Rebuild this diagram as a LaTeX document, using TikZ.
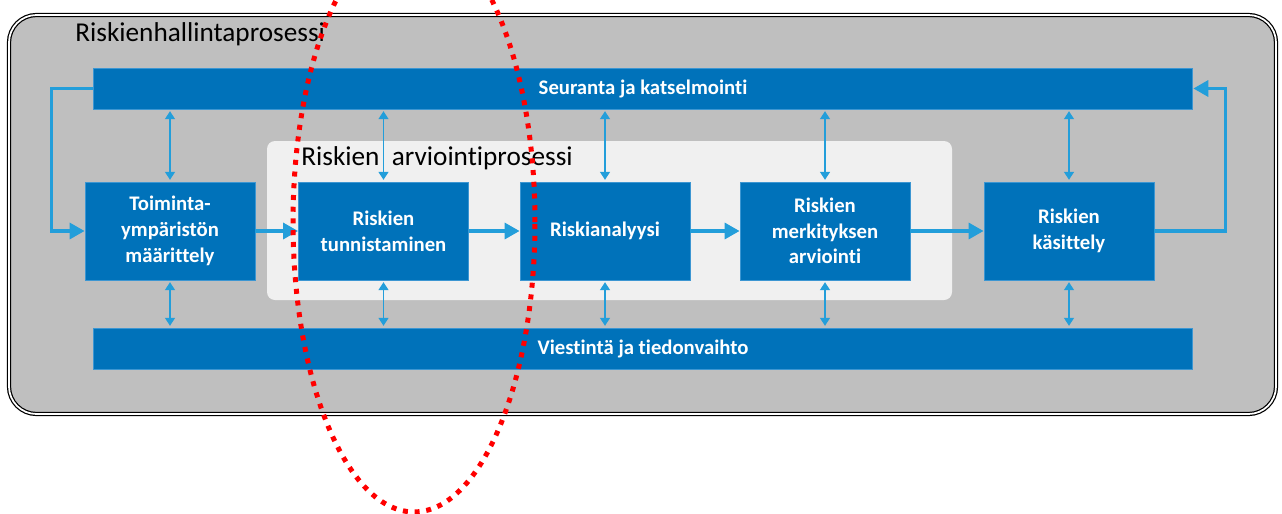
\documentclass[tikz,border=0pt]{standalone}
\usepackage{fontspec}
\setmainfont{Carlito}[Ligatures=NoCommon]
\usetikzlibrary{arrows.meta}
\definecolor{tummasininen}{RGB}{0,114,186}
\definecolor{reunasininen}{RGB}{60,150,210}
\definecolor{nuolisininen}{RGB}{35,158,218}
\definecolor{taustaharmaa}{RGB}{191,191,191}
\definecolor{paneeliharmaa}{RGB}{240,240,240}
\tikzset{
    laatikko/.style={rectangle, fill=tummasininen, draw=reunasininen, line width=0.5pt,
        text=white, font=\bfseries\fontsize{11.8}{14.6}\selectfont, align=center,
        minimum width=3.4cm, minimum height=1.96cm, inner sep=0pt},
    palkki/.style={laatikko, minimum width=22cm, minimum height=0.82cm},
    isonuoli/.style={draw=nuolisininen, line width=1.9pt, -{Triangle[length=0.3cm, width=0.32cm]}},
    pieninuoli/.style={draw=nuolisininen, line width=0.8pt,
        {Triangle[length=0.16cm, width=0.2cm]}-{Triangle[length=0.16cm, width=0.2cm]},
        shorten >=1pt, shorten <=1pt},
    otsikko/.style={font=\fontsize{15.5}{18}\selectfont, anchor=base west, inner sep=0pt}
}
\begin{document}
\begin{tikzpicture}[x=0.02cm, y=-0.02cm]
        \useasboundingbox (0,0) rectangle (1282,514);
        % Ulkokehys
        \draw[double=white, double distance=1pt, line width=0.7pt, fill=taustaharmaa,
            rounded corners=0.55cm] (9,15) rectangle (1276,414);
        \node[otsikko] (paaotsikko) at (75,41) {Riskienhallintaprosessi};
        % Arviointiprosessin paneeli
        \fill[paneeliharmaa, rounded corners=0.16cm] (267,141) rectangle (952,300);
        \node[otsikko] (alaotsikko) at (301,165) {Riskien\ \ arviointiprosessi};
        % Palkit
        \node[palkki] (seuranta) at (643,88.5) {Seuranta ja katselmointi};
        \node[palkki] (viestinta) at (643,348.5) {Viestintä ja tiedonvaihto};
        % Vaiheet
        \node[laatikko] (toiminta) at (170,231) {Toiminta-\\ympäristön\\määrittely};
        \node[laatikko] (tunnistus) at (383.5,231) {Riskien\\tunnistaminen};
        \node[laatikko] (analyysi) at (605,231) {Riskianalyysi};
        \node[laatikko] (merkitys) at (825,231) {Riskien\\merkityksen\\arviointi};
        \node[laatikko] (kasittely) at (1069,231) {Riskien\\käsittely};
        % Kulku
        \draw[isonuoli] (toiminta) -- (tunnistus);
        \draw[isonuoli] (tunnistus) -- (analyysi);
        \draw[isonuoli] (analyysi) -- (merkitys);
        \draw[isonuoli] (merkitys) -- (kasittely);
        \draw[isonuoli] (seuranta.west) -- ++(-0.82cm,0) |- (toiminta.west);
        \draw[isonuoli] (kasittely.east) -- ++(1.42cm,0) |- (seuranta.east);
        % Yhteydet palkkeihin
        \draw[pieninuoli] (seuranta.south -| toiminta) -- (toiminta.north);
        \draw[pieninuoli] (seuranta.south -| tunnistus) -- (tunnistus.north);
        \draw[pieninuoli] (seuranta.south -| analyysi) -- (analyysi.north);
        \draw[pieninuoli] (seuranta.south -| merkitys) -- (merkitys.north);
        \draw[pieninuoli] (seuranta.south -| kasittely) -- (kasittely.north);
        \draw[pieninuoli] (toiminta.south) -- (viestinta.north -| toiminta);
        \draw[pieninuoli] (tunnistus.south) -- (viestinta.north -| tunnistus);
        \draw[pieninuoli] (analyysi.south) -- (viestinta.north -| analyysi);
        \draw[pieninuoli] (merkitys.south) -- (viestinta.north -| merkitys);
        \draw[pieninuoli] (kasittely.south) -- (viestinta.north -| kasittely);
        % Punainen rengas
        \draw[red, line width=0.1cm, dash pattern=on 0.1cm off 0.135cm]
            (414,222) ellipse [x radius=2.42cm, y radius=5.8cm];
    \end{tikzpicture}
\end{document}
